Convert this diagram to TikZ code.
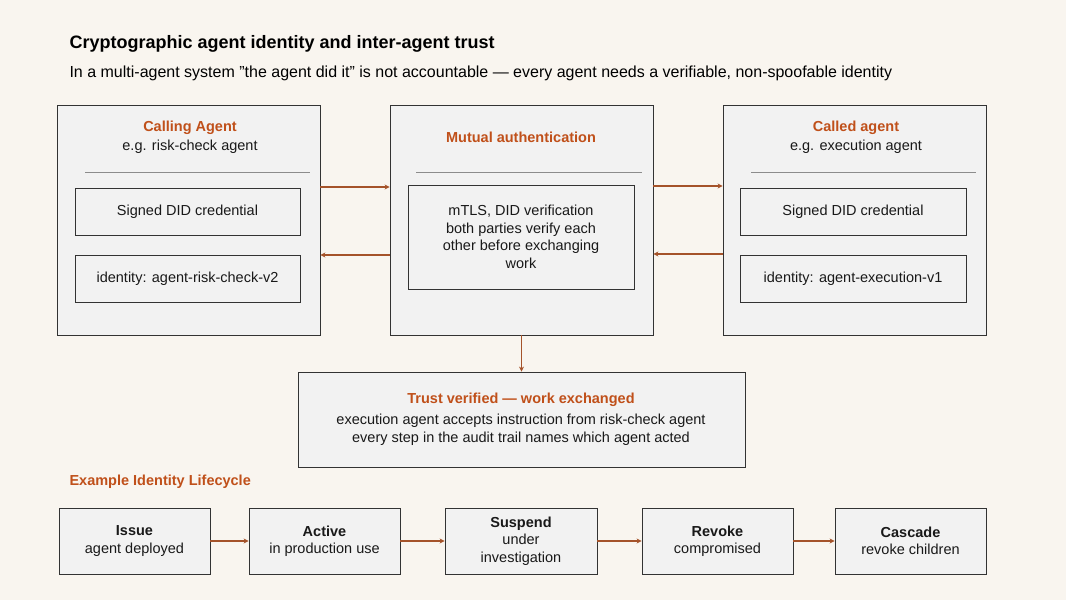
\documentclass[tikz,border=0pt]{standalone}
\usepackage{fontspec}
\setmainfont{Liberation Sans}
\usetikzlibrary{arrows.meta}
\definecolor{bg}{HTML}{F9F5EF}
\definecolor{boxf}{HTML}{F2F2F2}
\definecolor{org}{HTML}{C0501A}
\definecolor{arr}{HTML}{A5532A}
\begin{document}
\begin{tikzpicture}[x=1pt,y=-1pt,
  box/.style={draw=black!80,fill=boxf,line width=0.8pt},
  conn/.style={draw=arr,line width=1.2pt,-{Stealth[length=5pt,width=5pt]}},
  txt/.style={font=\fontsize{14.5}{17.5}\selectfont,align=center,text=black!90},
  hd/.style={font=\fontsize{14.5}{17.5}\selectfont\bfseries,text=org},
  ht/.style={font=\fontsize{14.5}{17.5}\selectfont\bfseries,text=black}]
\fill[bg] (0,0) rectangle (1066,600);
\node[anchor=west,font=\fontsize{18}{22}\selectfont\bfseries] (title) at (66,44) {Cryptographic agent identity and inter-agent trust};
\node[anchor=west,font=\fontsize{16}{20}\selectfont] (sub) at (66,73) {In a multi-agent system "the agent did it" is not accountable — every agent needs a verifiable, non-spoofable identity};
% outer boxes
\node[box,minimum width=263pt,minimum height=230pt] (A) at (188.5,220) {};
\node[box,minimum width=263pt,minimum height=230pt] (M) at (521.5,220) {};
\node[box,minimum width=263pt,minimum height=230pt] (C) at (854.5,220) {};
\node[hd] (At) at (190,128) {Calling Agent};
\node[txt] (As) at (190,147) {e.g. risk-check agent};
\draw[black!45,line width=1pt] (85,172) -- (310,172);
\node[box,txt,minimum width=225pt,minimum height=47pt] (A1) at (187.5,211.5) {Signed DID credential};
\node[box,txt,minimum width=225pt,minimum height=47pt] (A2) at (187.5,278.5) {identity: agent-risk-check-v2};
\node[hd] (Mt) at (521,137) {Mutual authentication};
\draw[black!45,line width=1pt] (416,172) -- (642,172);
\node[box,txt,minimum width=226pt,minimum height=104pt] (M1) at (521,237) {mTLS, DID verification\\both parties verify each\\other before exchanging\\work};
\node[hd] (Ct) at (856,128) {Called agent};
\node[txt] (Cs) at (856,147) {e.g. execution agent};
\draw[black!45,line width=1pt] (751,172) -- (976,172);
\node[box,txt,minimum width=226pt,minimum height=47pt] (C1) at (853,211.5) {Signed DID credential};
\node[box,txt,minimum width=226pt,minimum height=47pt] (C2) at (853,278.5) {identity: agent-execution-v1};
\draw[conn] (A.east|-0,187) -- (M.west|-0,187);
\draw[conn] (M.west|-0,255) -- (A.east|-0,255);
\draw[conn] (M.east|-0,186) -- (C.west|-0,186);
\draw[conn] (C.west|-0,254) -- (M.east|-0,254);
\node[box,minimum width=447pt,minimum height=95pt] (T) at (521.5,419.5) {};
\draw[conn] (M.south) -- (T.north);
\node[hd] (Tt) at (521,400) {Trust verified — work exchanged};
\node[txt] (Tb) at (521,429.5) {execution agent accepts instruction from risk-check agent\\every step in the audit trail names which agent acted};
\node[hd,anchor=west] (L) at (66,482) {Example Identity Lifecycle};
\foreach \n/\x/\a/\b in {L1/134.5/Issue/agent deployed, L2/324.5/Active/in production use, L4/717.5/Revoke/compromised /\\retired, L5/910.5/Cascade/revoke children}{
  \node[box,txt,minimum width=151pt,minimum height=66pt] (\n) at (\x,541) {\textbf{\a}\\\b};
}
\node[box,txt,minimum width=152pt,minimum height=66pt] (L3) at (521,541) {\textbf{Suspend}\\under\\investigation};
\draw[conn] (L1) -- (L2);
\draw[conn] (L2) -- (L3);
\draw[conn] (L3) -- (L4);
\draw[conn] (L4) -- (L5);
\end{tikzpicture}
\end{document}
